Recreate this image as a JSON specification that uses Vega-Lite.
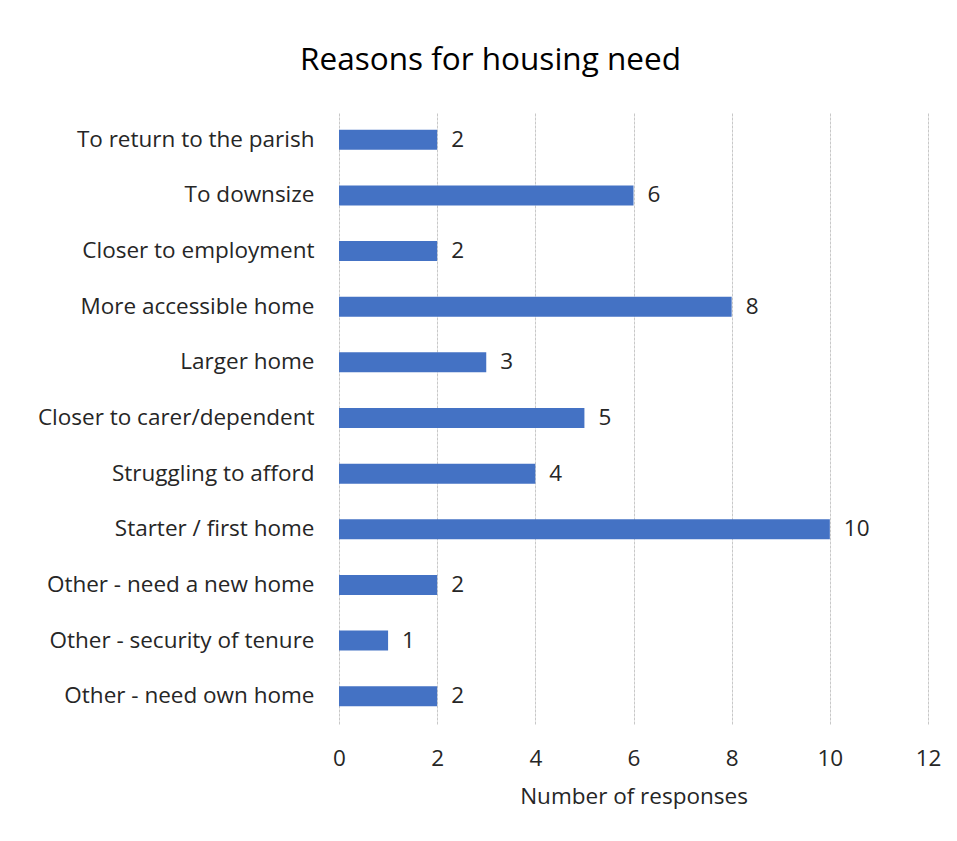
{
  "$schema": "https://vega.github.io/schema/vega-lite/v6.json",
  "width": 589,
  "height": 612,
  "autosize": "none",
  "padding": {"left": 339, "top": 112, "right": 29, "bottom": 117},
  "background": "white",
  "title": {
    "text": "Reasons for housing need",
    "font": "Open Sans",
    "fontSize": 31.5,
    "fontWeight": "normal",
    "color": "#000000",
    "anchor": "middle",
    "dx": -143,
    "offset": 36
  },
  "data": {
    "values": [
      {"reason": "To return to the parish", "count": 2},
      {"reason": "To downsize", "count": 6},
      {"reason": "Closer to employment", "count": 2},
      {"reason": "More accessible home", "count": 8},
      {"reason": "Larger home", "count": 3},
      {"reason": "Closer to carer/dependent", "count": 5},
      {"reason": "Struggling to afford", "count": 4},
      {"reason": "Starter / first home", "count": 10},
      {"reason": "Other - need a new home", "count": 2},
      {"reason": "Other - security of tenure", "count": 1},
      {"reason": "Other - need own home", "count": 2}
    ]
  },
  "encoding": {
    "y": {
      "field": "reason",
      "type": "nominal",
      "sort": null,
      "title": null,
      "axis": {
        "domain": false,
        "ticks": false,
        "labelPadding": 25,
        "labelFont": "Open Sans",
        "labelFontSize": 22.5,
        "labelColor": "#262626",
        "labelLimit": 400
      }
    },
    "x": {
      "field": "count",
      "type": "quantitative",
      "scale": {"domain": [0, 12]},
      "title": "Number of responses",
      "axis": {
        "values": [0, 2, 4, 6, 8, 10, 12],
        "grid": true,
        "gridColor": "#c8c8c8",
        "gridDash": [3, 1],
        "gridWidth": 1,
        "domain": false,
        "ticks": false,
        "labelFlush": false,
        "labelPadding": 23,
        "labelFont": "Open Sans",
        "labelFontSize": 22.5,
        "labelColor": "#262626",
        "titleFont": "Open Sans",
        "titleFontSize": 22.5,
        "titleFontWeight": "normal",
        "titleColor": "#262626",
        "titlePadding": 16
      }
    }
  },
  "layer": [
    {
      "mark": {"type": "bar", "color": "#4472C4", "size": 20}
    },
    {
      "mark": {"type": "text", "align": "left", "dx": 14, "font": "Open Sans", "fontSize": 22.5, "color": "#262626"},
      "encoding": {"text": {"field": "count", "type": "quantitative"}}
    }
  ],
  "config": {"view": {"stroke": null}}
}
